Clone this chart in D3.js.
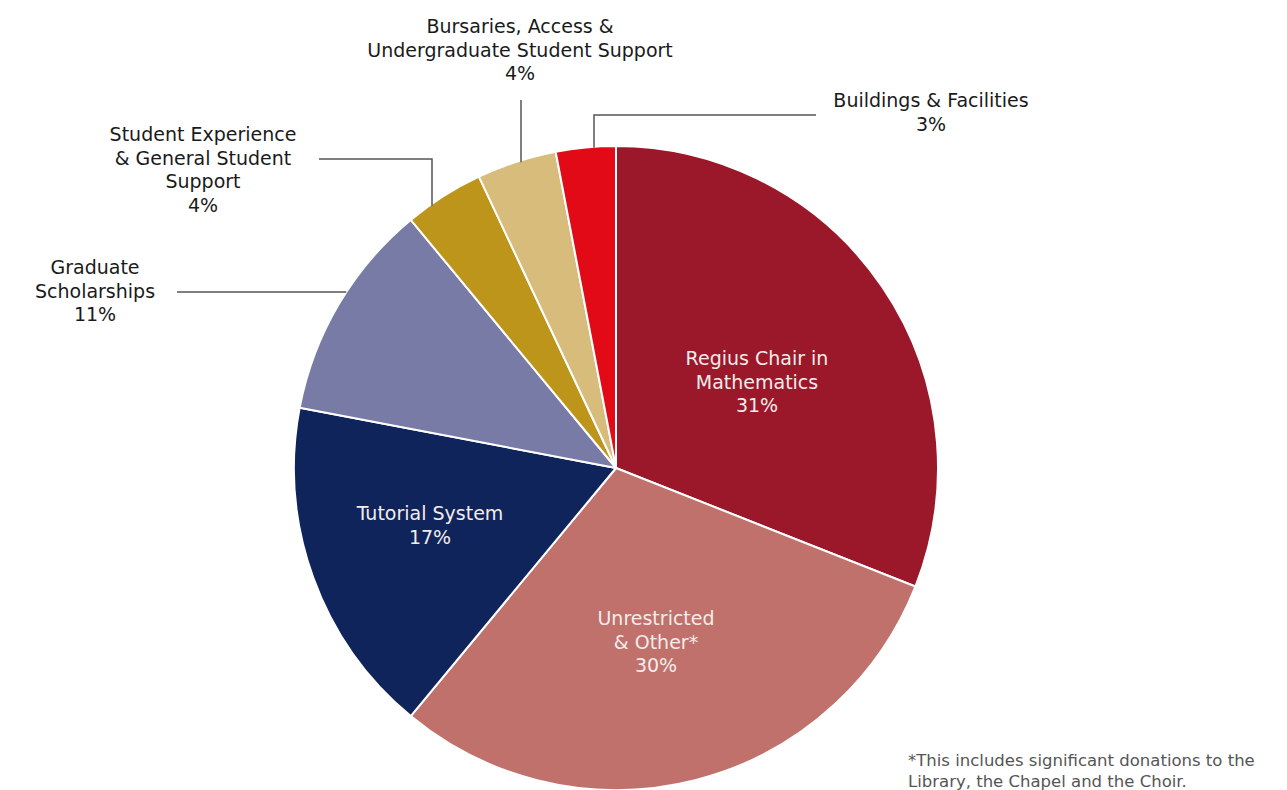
<!DOCTYPE html>
<html>
<head>
<meta charset="utf-8">
<script src="https://cdn.jsdelivr.net/npm/d3@7"></script>
<style>
  body { margin: 0; background: #fff; }
  svg text { font-family: "DejaVu Sans", sans-serif; }
</style>
</head>
<body>
<svg id="chart"></svg>
<script>
const width = 1287;
const height = 790;

// data
const categories = [
  'Regius Chair in Mathematics',
  'Unrestricted & Other*',
  'Tutorial System',
  'Graduate Scholarships',
  'Student Experience & General Student Support',
  'Bursaries, Access & Undergraduate Student Support',
  'Buildings & Facilities'
];
const values = [31, 30, 17, 11, 4, 4, 3];
const colors = ['#9a1829', '#c0716b', '#0f245a', '#787ba6', '#bd951a', '#d8bc7b', '#e20a17'];
// how each label is broken into lines
const labelLines = [
  ['Regius Chair in', 'Mathematics'],
  ['Unrestricted', '& Other*'],
  ['Tutorial System'],
  ['Graduate', 'Scholarships'],
  ['Student Experience', '& General Student', 'Support'],
  ['Bursaries, Access &', 'Undergraduate Student Support'],
  ['Buildings & Facilities']
];
const footnote = ['*This includes significant donations to the', 'Library, the Chapel and the Choir.'];

const cx = 616, cy = 468, r = 322;
const lineH = 23.5;

// label placement: inside labels at a point, outside labels with a leader
const layout = [
  { x: 757, y: 365, inside: true },
  { x: 656, y: 625, inside: true },
  { x: 430, y: 520, inside: true },
  { x: 95, y: 274, leader: { type: 'h', y: 292, x0: 177 } },
  { x: 203, y: 141, leader: { type: 'hv', y: 159, x0: 319, x: 432 } },
  { x: 520, y: 33, leader: { type: 'v', x: 521, y0: 100 } },
  { x: 931, y: 107, leader: { type: 'vh', x: 594, y: 115, x1: 816 } }
];

const data = categories.map((c, i) => ({ name: c, value: values[i], color: colors[i], lines: labelLines[i], pos: layout[i] }));

const svg = d3.select('#chart').attr('width', width).attr('height', height);

const pie = d3.pie().sort(null).value(d => d.value);
const arc = d3.arc().innerRadius(0).outerRadius(r);

const g = svg.append('g').attr('transform', `translate(${cx},${cy})`);

g.selectAll('path')
  .data(pie(data))
  .join('path')
  .attr('d', arc)
  .attr('fill', d => d.data.color)
  .attr('stroke', '#fff')
  .attr('stroke-width', 2)
  .attr('stroke-linejoin', 'round');

// where a vertical / horizontal leader meets the circle
const edgeY = x => cy - Math.sqrt(r * r - (x - cx) * (x - cx));
const edgeX = y => cx - Math.sqrt(r * r - (y - cy) * (y - cy));

const leaders = svg.append('g')
  .attr('fill', 'none')
  .attr('stroke', '#555')
  .attr('stroke-width', 1.5);

data.forEach(d => {
  const L = d.pos.leader;
  if (!L) return;
  let pts;
  if (L.type === 'h') pts = [[L.x0, L.y], [edgeX(L.y), L.y]];
  if (L.type === 'hv') pts = [[L.x0, L.y], [L.x, L.y], [L.x, edgeY(L.x) + 2]];
  if (L.type === 'v') pts = [[L.x, L.y0], [L.x, edgeY(L.x) + 2]];
  if (L.type === 'vh') pts = [[L.x, edgeY(L.x) + 1], [L.x, L.y], [L.x1, L.y]];
  leaders.append('path').attr('d', d3.line()(pts));
});

const labels = svg.append('g');
data.forEach(d => {
  const t = labels.append('text')
    .attr('text-anchor', 'middle')
    .attr('font-size', 19)
    .attr('fill', d.pos.inside ? '#f4ecec' : '#1a1a1a');
  const lines = d.lines.concat([d.value + '%']);
  lines.forEach((s, k) => {
    t.append('tspan').attr('x', d.pos.x).attr('y', d.pos.y + k * lineH).text(s);
  });
});

const fn = svg.append('text')
  .attr('font-size', 16.5)
  .attr('fill', '#555');
footnote.forEach((s, k) => {
  fn.append('tspan').attr('x', 908).attr('y', 766 + k * 21).text(s);
});
</script>
</body>
</html>
